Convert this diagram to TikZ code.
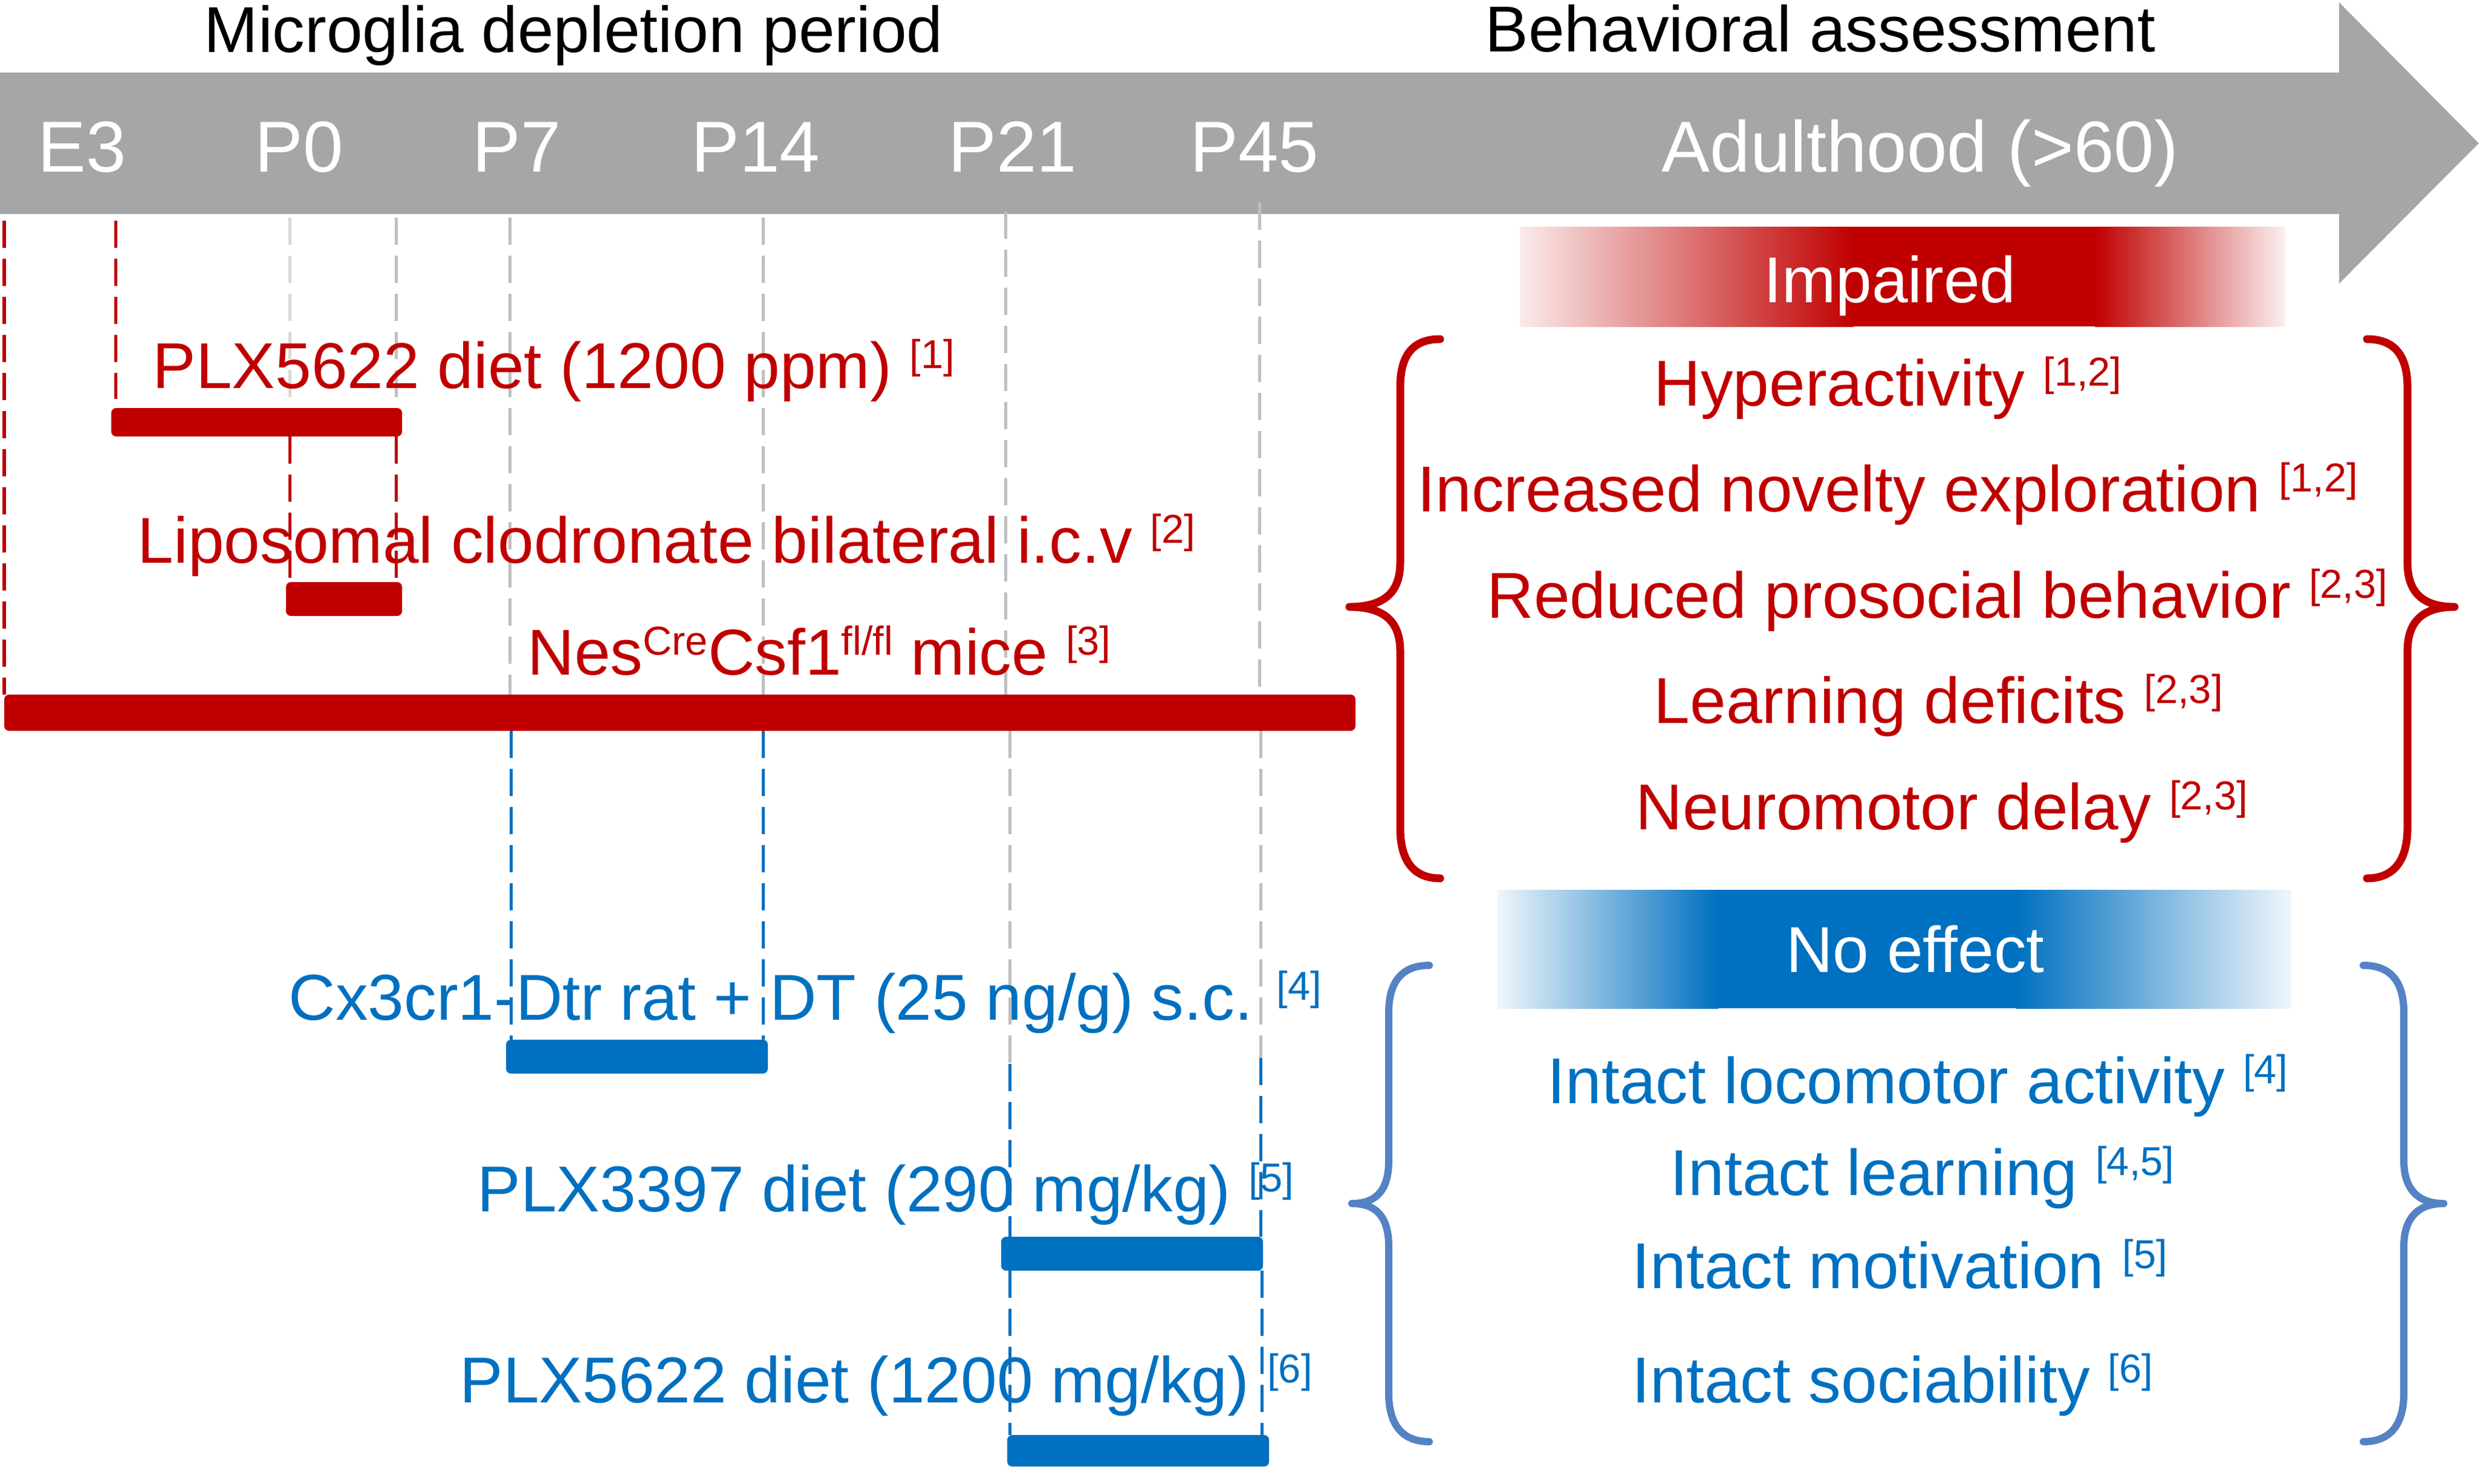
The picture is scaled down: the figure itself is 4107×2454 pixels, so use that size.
\documentclass[tikz,border=0pt]{standalone}
\usepackage{fontspec}
\setmainfont{Liberation Sans}
\usepackage{tikz}
\definecolor{redc}{RGB}{192,0,0}
\definecolor{bluec}{RGB}{0,112,192}
\definecolor{braceblue}{RGB}{84,130,196}
\definecolor{axisgray}{RGB}{166,166,166}
\definecolor{guidegray}{RGB}{191,191,191}
\definecolor{lightguide}{RGB}{217,217,217}
\newcommand{\lbfont}{\fontsize{30.5}{36}\selectfont}
\newcommand{\axfont}{\fontsize{34}{40}\selectfont}
\newcommand{\refmark}[1]{\raisebox{0.3em}{\fontsize{19}{22}\selectfont[#1]}}
\newcommand{\supmark}[1]{\raisebox{0.3em}{\fontsize{19}{22}\selectfont #1}}
\tikzset{
  guide/.style={line width=0.05cm, dash pattern=on 0.45cm off 0.18cm},
  dosebar/.style={rounded corners=0.08cm},
  lbl/.style={anchor=base west, inner sep=0pt, font=\lbfont},
  axlbl/.style={anchor=base, inner sep=0pt, font=\axfont, text=white},
  bracepath/.style={line width=0.13cm, line cap=round, line join=round}
}
\begin{document}
\begin{tikzpicture}[x=0.01cm,y=-0.01cm]
\useasboundingbox (0,0) rectangle (4107,2454);
\fill[axisgray] (0,120) -- (3869,120) -- (3869,4) -- (4100,237) -- (3869,469) -- (3869,354) -- (0,354) -- cycle;
\node[lbl] (title) at (337,86) {Microglia depletion period};
\node[lbl] (assess) at (2456,85) {Behavioral assessment};
\node[axlbl] (e3) at (136,284) {E3};
\node[axlbl] (p0) at (495,284) {P0};
\node[axlbl] (p7) at (855,284) {P7};
\node[axlbl] (p14) at (1250,284) {P14};
\node[axlbl] (p21) at (1675,284) {P21};
\node[axlbl] (p45) at (2075,284) {P45};
\node[axlbl] (adult) at (3176,284) {Adulthood (>60)};
\draw[guide,redc] (7,365) -- (7,1149);
\draw[guide,redc] (191,365) -- (191,660);
\draw[guide,lightguide] (479,360) -- (479,675);
\draw[guide,guidegray] (655,360) -- (655,675);
\draw[guide,redc] (479,722) -- (479,963);
\draw[guide,redc] (655,722) -- (655,963);
\draw[guide,guidegray] (843,360) -- (843,1170);
\draw[guide,guidegray] (1262,360) -- (1262,1170);
\draw[guide,bluec] (845,1209) -- (845,1720);
\draw[guide,bluec] (1262,1209) -- (1262,1720);
\draw[guide,guidegray] (1663,350) -- (1663,1170);
\draw[guide,guidegray] (2083,335) -- (2083,1170);
\draw[guide,guidegray] (1670,1209) -- (1670,1760);
\draw[guide,guidegray] (2085,1209) -- (2085,1750);
\draw[guide,bluec] (1670,1760) -- (1670,2046);
\draw[guide,bluec] (2085,1750) -- (2085,2046);
\draw[guide,bluec] (1670,2102) -- (1670,2374);
\draw[guide,bluec] (2087,2102) -- (2087,2374);
\fill[redc,dosebar] (184,675) rectangle (665,722);
\fill[redc,dosebar] (473,963) rectangle (665,1019);
\fill[redc,dosebar] (7,1149) rectangle (2242,1209);
\fill[bluec,dosebar] (837,1720) rectangle (1270,1776);
\fill[bluec,dosebar] (1656,2046) rectangle (2089,2102);
\fill[bluec,dosebar] (1666,2374) rectangle (2099,2426);
\node[lbl,text=redc] (plxa) at (252,642) {PLX5622 diet (1200 ppm) \refmark{1}};
\node[lbl,text=redc] (lipo) at (227,931) {Liposomal clodronate bilateral i.c.v \refmark{2}};
\node[lbl,text=redc] (nes) at (872,1116) {Nes\supmark{Cre}Csf1\supmark{fl/fl} mice \refmark{3}};
\node[lbl,text=bluec] (cx) at (477,1687) {Cx3cr1-Dtr rat + DT (25 ng/g) s.c. \refmark{4}};
\node[lbl,text=bluec] (plxb) at (789,2004) {PLX3397 diet (290 mg/kg) \refmark{5}};
\node[lbl,text=bluec] (plxc) at (760,2320) {PLX5622 diet (1200 mg/kg) \refmark{6}};
\shade[left color=redc!8,right color=redc] (2514,375) rectangle (3066,540);
\fill[redc] (3065,375) rectangle (3466,540);
\shade[left color=redc,right color=redc!6] (3465,375) rectangle (3780,540);
\node[lbl,anchor=base,text=white] (imp) at (3126,500) {Impaired};
\draw[bracepath,redc] (2382,561) .. controls (2335,561) and (2316,590) .. (2316,640) -- (2316,930) .. controls (2316,975) and (2295,1004) .. (2232,1004) .. controls (2295,1004) and (2316,1033) .. (2316,1078) -- (2316,1370) .. controls (2316,1420) and (2335,1453) .. (2382,1453);
\draw[bracepath,redc] (3915,561) .. controls (3962,561) and (3982,590) .. (3982,640) -- (3982,930) .. controls (3982,975) and (4002,1004) .. (4060,1004) .. controls (4002,1004) and (3982,1033) .. (3982,1078) -- (3982,1370) .. controls (3982,1420) and (3962,1453) .. (3915,1453);
\node[lbl,text=redc] (hyp) at (2735,671) {Hyperactivity \refmark{1,2}};
\node[lbl,text=redc] (nov) at (2344,846) {Increased novelty exploration \refmark{1,2}};
\node[lbl,text=redc] (soc) at (2459,1022) {Reduced prosocial behavior \refmark{2,3}};
\node[lbl,text=redc] (learn) at (2735,1196) {Learning deficits \refmark{2,3}};
\node[lbl,text=redc] (motor) at (2705,1372) {Neuromotor delay \refmark{2,3}};
\shade[left color=bluec!6,right color=bluec] (2476,1472) rectangle (2842,1668);
\fill[bluec] (2840,1472) rectangle (3336,1668);
\shade[left color=bluec,right color=bluec!6] (3335,1472) rectangle (3790,1668);
\node[lbl,anchor=base,text=white] (noeff) at (3168,1608) {No effect};
\draw[bracepath,braceblue,line width=0.12cm] (2364,1597) .. controls (2318,1597) and (2297,1625) .. (2297,1675) -- (2297,1920) .. controls (2297,1962) and (2282,1991) .. (2236,1991) .. controls (2282,1991) and (2297,2020) .. (2297,2062) -- (2297,2305) .. controls (2297,2355) and (2318,2385) .. (2364,2385);
\draw[bracepath,braceblue,line width=0.12cm] (3909,1597) .. controls (3955,1597) and (3976,1625) .. (3976,1675) -- (3976,1920) .. controls (3976,1962) and (3995,1991) .. (4042,1991) .. controls (3995,1991) and (3976,2020) .. (3976,2062) -- (3976,2305) .. controls (3976,2355) and (3955,2385) .. (3909,2385);
\node[lbl,text=bluec] (loco) at (2559,1825) {Intact locomotor activity \refmark{4}};
\node[lbl,text=bluec] (ilearn) at (2762,1977) {Intact learning \refmark{4,5}};
\node[lbl,text=bluec] (motiv) at (2699,2131) {Intact motivation \refmark{5}};
\node[lbl,text=bluec] (sociab) at (2699,2320) {Intact sociability \refmark{6}};
\end{tikzpicture}
\end{document}
